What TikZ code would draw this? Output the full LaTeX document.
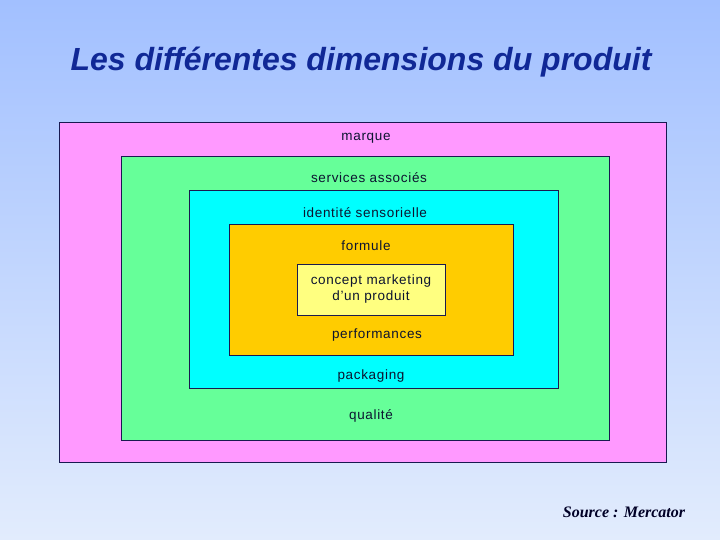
\documentclass[tikz,border=0pt]{standalone}
\usepackage{fontspec}
\setmainfont{Liberation Sans}
\newfontfamily\srcfont{Liberation Serif}
\newfontfamily\lblfont[LetterSpace=5]{Liberation Sans}
\usepackage{tikz}
\usetikzlibrary{positioning}
\definecolor{bgtop}{RGB}{162,192,255}
\definecolor{bgbottom}{RGB}{226,236,253}
\definecolor{titleblue}{RGB}{16,40,150}
\definecolor{edgenavy}{RGB}{25,25,80}
\definecolor{labelnavy}{RGB}{12,20,48}
\definecolor{cpink}{RGB}{255,153,255}
\definecolor{cgreen}{RGB}{102,255,153}
\definecolor{ccyan}{RGB}{0,255,255}
\definecolor{corange}{RGB}{255,204,0}
\definecolor{cyellow}{RGB}{255,255,128}

\begin{document}
\begin{tikzpicture}[x=1pt,y=-1pt,
	layer/.style={draw=edgenavy,line width=0.8pt,inner sep=0pt,outer sep=0pt},
	lbl/.style={font=\lblfont\fontsize{13.5}{16}\selectfont,text=labelnavy,inner sep=0pt}]
	\useasboundingbox (0,0) rectangle (720,540);
	\shade[top color=bgtop,bottom color=bgbottom] (0,0) rectangle (720,540);

	\node[text=titleblue,font=\fontsize{32}{38}\selectfont\bfseries\itshape] (title) at (361,62) {Les différentes dimensions du produit};

	\node[layer,fill=cpink,minimum width=607,minimum height=340] (lMarque) at (362.5,292) {};
	\node[layer,fill=cgreen,minimum width=488,minimum height=284] (lServices) at (365,298) {};
	\node[layer,fill=ccyan,minimum width=369,minimum height=198] (lIdentite) at (373.5,289) {};
	\node[layer,fill=corange,minimum width=284,minimum height=131] (lFormule) at (371,289.5) {};
	\node[layer,fill=cyellow,minimum width=148,minimum height=51,align=center,lbl] (lConcept) at (371,289.5) {concept marketing\\d’un produit};

	\node[lbl] (tMarque) at (366,138) {marque};
	\node[lbl] (tServices) at (369,178) {services associés};
	\node[lbl] (tIdentite) at (365,213) {identité sensorielle};
	\node[lbl] (tFormule) at (366,246) {formule};
	\node[lbl] (tPerf) [below=14pt of lConcept,xshift=6pt] {performances};
	\node[lbl] (tPackaging) at (371,376) {packaging};
	\node[lbl] (tQualite) at (371,416) {qualité};

	\node[font=\srcfont\fontsize{16}{19}\selectfont\bfseries\itshape,text=black!85!blue] (source) at (624,512) {Source : Mercator};
\end{tikzpicture}
\end{document}
